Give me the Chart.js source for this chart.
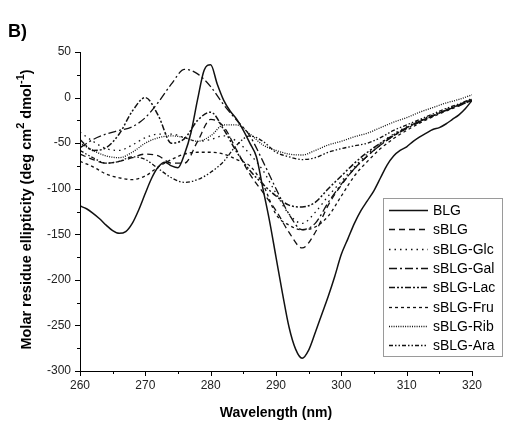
<!DOCTYPE html>
<html>
<head>
<meta charset="utf-8">
<script src="https://cdn.jsdelivr.net/npm/chart.js@4"></script>
<style>
  html, body { margin: 0; padding: 0; background: #fff; }
  #wrap { width: 506px; height: 432px; position: relative; }
</style>
</head>
<body>
<div id="wrap"><canvas id="cd"></canvas></div>
<script>
// BLG is sampled every 1 nm, the sBLG samples every 2 nm
const blgNm = [];
for (let w = 260; w <= 320; w++) blgNm.push(w);
const blg = [
  -119, -122, -127, -133, -140, -146, -149, -147, -138, -123,
  -105, -88, -76, -71, -75, -77, -62, -38, -2, 30,
  36, 15, -3, -15, -24, -36, -50, -65, -100, -135,
  -175, -215, -252, -276, -286, -277, -258, -238, -218, -196,
  -172, -155, -138, -124, -113, -102, -88, -74, -64, -58,
  -54, -48, -43, -39, -35, -33, -29, -24, -19, -12,
  -3
];

const nm = [];
for (let w = 260; w <= 320; w += 2) nm.push(w);
//             260  262  264  266  268  270  272  274  276  278  280  282  284  286   288   290   292   294   296   298  300  302  304  306  308  310  312  314  316  318  320
const sblg    = [-62, -68, -72, -70, -66, -62, -64, -72, -72, -48, -24, -32, -58, -84, -104, -124, -148, -165, -148, -118, -96, -78, -64, -52, -42, -33, -26, -20, -14,  -9,  -3];
const sblgGlc = [-38, -48, -56, -58, -52, -44, -40, -40, -44, -48, -46, -42, -48, -62,  -80, -105, -128, -138, -126, -108, -92, -76, -62, -50, -40, -32, -25, -19, -13,  -8,  -2];
const sblgGal = [-55, -46, -40, -36, -32, -22,  -5,  15,  31,  26,  12,  -8, -25, -42,  -70, -100, -128, -145, -138, -115, -95, -78, -64, -52, -42, -34, -27, -20, -14,  -8,  -2];
const sblgLac = [-46, -58, -55, -40, -15,   0, -20, -50, -45, -25, -16, -35, -60, -80,  -95, -108, -118, -120, -115, -100, -86, -72, -60, -50, -41, -33, -26, -20, -14,  -8,  -2];
const sblgFru = [-70, -76, -84, -88, -90, -86, -76, -68, -62, -60, -60, -62, -68, -75,  -95, -128, -140, -145, -142, -130,-108, -86, -70, -56, -45, -36, -28, -21, -15,  -9,  -3];
const sblgRib = [-50, -58, -64, -66, -60, -50, -44, -42, -44, -48, -42, -30, -30, -40,  -52,  -58,  -62,  -63,  -58,  -52, -48, -43, -39, -33, -27, -22, -16, -11,  -6,  -2,   3];
const sblgAra = [-58, -66, -72, -70, -65, -68, -78, -88, -93, -90, -82, -70, -52, -42,  -48,  -60,  -65,  -68,  -66,  -60, -56, -53, -50, -44, -36, -30, -24, -18, -12,  -7,  -1];

const yTicks = [-300, -250, -200, -150, -100, -50, 0, 50];
const xTicks = [260, 270, 280, 290, 300, 310, 320];

const font = "'Liberation Sans', Arial, sans-serif";
const ink = "#111";

const pts = (xs, ys) => xs.map((x, i) => ({ x, y: ys[i] }));

function line(label, xs, ys, dash, width) {
  return {
    label,
    data: pts(xs, ys),
    borderColor: ink,
    borderWidth: width || 1.3,
    borderDash: dash,
    pointRadius: 0,
    fill: false,
    tension: 0.4,
    cubicInterpolationMode: "monotone"
  };
}

const datasets = [
  line("BLG", blgNm, blg, [], 1.5),
  line("sBLG", nm, sblg, [6, 4]),
  line("sBLG-Glc", nm, sblgGlc, [1.5, 4]),
  line("sBLG-Gal", nm, sblgGal, [8, 3, 2, 3]),
  line("sBLG-Lac", nm, sblgLac, [6, 2, 2, 2, 2, 2], 1.5),
  line("sBLG-Fru", nm, sblgFru, [3, 3]),
  line("sBLG-Rib", nm, sblgRib, [1, 1.3]),
  line("sBLG-Ara", nm, sblgAra, [4, 2, 1.5, 2, 1.5, 2])
];

// axes, minor ticks, titles and the boxed legend
const decor = {
  id: "decor",
  afterDraw(chart) {
    const ctx = chart.ctx;
    const { x, y } = chart.scales;
    const a = chart.chartArea;
    ctx.save();
    ctx.strokeStyle = "#000";
    ctx.lineWidth = 1;
    ctx.setLineDash([]);
    ctx.beginPath();
    ctx.moveTo(a.left + 0.5, a.top);
    ctx.lineTo(a.left + 0.5, a.bottom + 0.5);
    ctx.lineTo(a.right, a.bottom + 0.5);
    for (let v = -300; v <= 50; v += 25) {
      const py = Math.round(y.getPixelForValue(v)) + 0.5;
      const len = v % 50 === 0 ? 5 : 3;
      ctx.moveTo(a.left - len, py);
      ctx.lineTo(a.left, py);
    }
    for (let v = 260; v <= 320; v += 5) {
      const px = Math.round(x.getPixelForValue(v)) + 0.5;
      const len = v % 10 === 0 ? 5 : 3;
      ctx.moveTo(px, a.bottom);
      ctx.lineTo(px, a.bottom + len);
    }
    ctx.stroke();

    // panel letter
    ctx.fillStyle = "#000";
    ctx.font = "bold 18px " + font;
    ctx.textBaseline = "alphabetic";
    ctx.textAlign = "left";
    ctx.fillText("B)", 8, 37);

    // x title
    ctx.font = "bold 14px " + font;
    ctx.textAlign = "center";
    ctx.textBaseline = "middle";
    ctx.fillText("Wavelength (nm)", (a.left + a.right) / 2, 413);

    // y title with superscripts
    ctx.translate(27, (a.top + a.bottom) / 2 - 2);
    ctx.rotate(-Math.PI / 2);
    const parts = [
      ["Molar residue ellipticity (deg cm", false],
      ["2", true],
      [" dmol", false],
      ["-1", true],
      [")", false]
    ];
    const big = "bold 14.5px " + font, small = "bold 11px " + font;
    let total = 0;
    parts.forEach(([t, sup]) => {
      ctx.font = sup ? small : big;
      total += ctx.measureText(t).width;
    });
    let cx = -total / 2;
    ctx.textAlign = "left";
    ctx.textBaseline = "middle";
    parts.forEach(([t, sup]) => {
      ctx.font = sup ? small : big;
      ctx.fillText(t, cx, sup ? -6 : 0);
      cx += ctx.measureText(t).width;
    });
    ctx.restore();

    // legend
    ctx.save();
    ctx.fillStyle = "#fff";
    ctx.fillRect(383.5, 198.5, 119, 158);
    ctx.strokeStyle = "#9a9a9a";
    ctx.lineWidth = 1;
    ctx.strokeRect(383.5, 198.5, 119, 158);
    ctx.font = "14px " + font;
    ctx.textBaseline = "middle";
    ctx.textAlign = "left";
    chart.data.datasets.forEach((ds, i) => {
      const ly = Math.round(210 + i * 19.3) + 0.5;
      ctx.strokeStyle = ink;
      ctx.lineWidth = ds.borderWidth;
      ctx.setLineDash(ds.borderDash);
      ctx.beginPath();
      ctx.moveTo(389, ly);
      ctx.lineTo(428, ly);
      ctx.stroke();
      ctx.fillStyle = "#000";
      ctx.fillText(ds.label, 433, ly + 1);
    });
    ctx.restore();
  }
};

new Chart(document.getElementById("cd"), {
  type: "line",
  data: { datasets },
  plugins: [decor],
  options: {
    responsive: true,
    maintainAspectRatio: false,
    animation: false,
    layout: { padding: { top: 52, right: 34, left: 0, bottom: 0 } },
    plugins: { legend: { display: false }, tooltip: { enabled: false } },
    scales: {
      x: {
        type: "linear",
        min: 260,
        max: 320,
        afterBuildTicks: s => { s.ticks = xTicks.map(v => ({ value: v })); },
        ticks: { color: "#222", font: { family: font, size: 12 }, padding: 7, maxRotation: 0 },
        grid: { display: false, drawTicks: false },
        border: { display: false },
        afterFit: s => { s.height = 61; }
      },
      y: {
        min: -300,
        max: 50,
        afterBuildTicks: s => { s.ticks = yTicks.map(v => ({ value: v })); },
        ticks: { color: "#222", font: { family: font, size: 12 }, padding: 9 },
        grid: { display: false, drawTicks: false },
        border: { display: false },
        afterFit: s => { s.width = 80; }
      }
    }
  }
});
</script>
</body>
</html>
